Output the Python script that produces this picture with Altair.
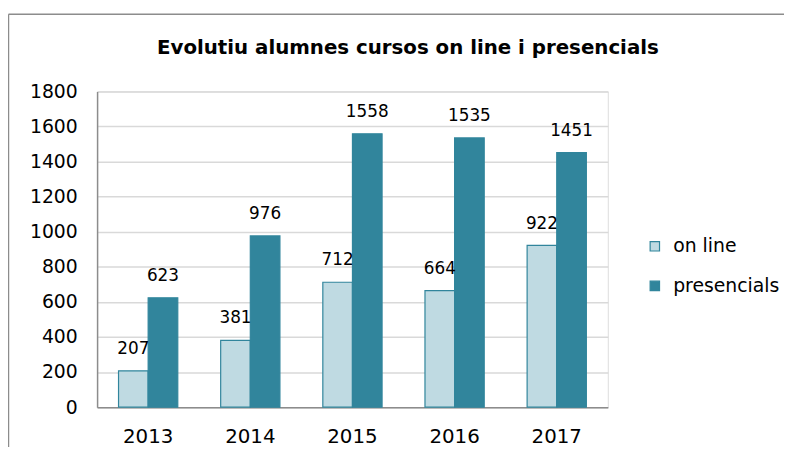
import altair as alt
import pandas as pd

years = ["2013", "2014", "2015", "2016", "2017"]
series = ["on line", "presencials"]
online = [207, 381, 712, 664, 922]
presencials = [623, 976, 1558, 1535, 1451]

rows = []
for i, y in enumerate(years):
    rows.append({"year": y, "serie": series[0], "value": online[i]})
    rows.append({"year": y, "serie": series[1], "value": presencials[i]})
df = pd.DataFrame(rows)

FONT = "DejaVu Sans"
TEAL = "#31859c"
PALE = "#bfdae2"

x = alt.X("year:N", title=None,
          scale=alt.Scale(paddingInner=0.42, paddingOuter=0.21),
          axis=alt.Axis(labelAngle=0, labelFontSize=20, labelPadding=20, ticks=False,
                        domainColor="#8c8c8c", domainWidth=1.5, labelColor="#000000", labelFont=FONT))
y = alt.Y("value:Q", title=None,
          scale=alt.Scale(domain=[0, 1800], nice=False),
          axis=alt.Axis(values=list(range(0, 1801, 200)), format="d", labelFontSize=19, labelPadding=20,
                        ticks=False, domainColor="#8c8c8c", domainWidth=1.5,
                        gridColor="#d9d9d9", gridWidth=1.5, labelColor="#000000", labelFont=FONT))
xo = alt.XOffset("serie:N", sort=series, scale=alt.Scale(paddingInner=0, paddingOuter=0))

bars = alt.Chart(df).mark_bar(strokeWidth=1.2).encode(
    x=x, y=y, xOffset=xo,
    fill=alt.Fill("serie:N", sort=series, title=None,
                  scale=alt.Scale(domain=series, range=[PALE, TEAL]),
                  legend=alt.Legend(orient="none", legendX=554, legendY=147, symbolType="square",
                                    symbolSize=90, labelFontSize=19, rowPadding=20,
                                    labelFont=FONT, labelColor="#000000", symbolStrokeWidth=1.2,
                                    labelOffset=9)),
    stroke=alt.Stroke("serie:N", sort=series, title=None,
                      scale=alt.Scale(domain=series, range=[TEAL, TEAL])),
)

labels = alt.Chart(df).mark_text(dy=-22, fontSize=17, font=FONT, color="#000000").encode(
    x=x, y=y, xOffset=xo, text=alt.Text("value:Q"),
)

frame_df = pd.DataFrame({"k": [0]})
frame_top = alt.Chart(frame_df).mark_rule(color="#8c8c8c", strokeWidth=1.5).encode(
    x=alt.value(-89.5), x2=alt.value(700), y=alt.value(-78))
frame_left = alt.Chart(frame_df).mark_rule(color="#8c8c8c", strokeWidth=1.5).encode(
    x=alt.value(-89.5), y=alt.value(-78), y2=alt.value(360))

chart = alt.layer(bars, labels, frame_top, frame_left).properties(
    width=516, height=319,
    title=alt.Title("Evolutiu alumnes cursos on line i presencials", fontSize=20, font=FONT,
                    fontWeight="bold", anchor="middle", dx=56, offset=0, dy=45, color="#000000"),
    autosize=alt.AutoSizeParams(type="none"),
    padding={"left": 90, "top": 82, "right": 178, "bottom": 38},
).configure_view(stroke=None).configure(background="#ffffff")

chart.save("out.html", embed_options={"renderer": "svg", "actions": False})
